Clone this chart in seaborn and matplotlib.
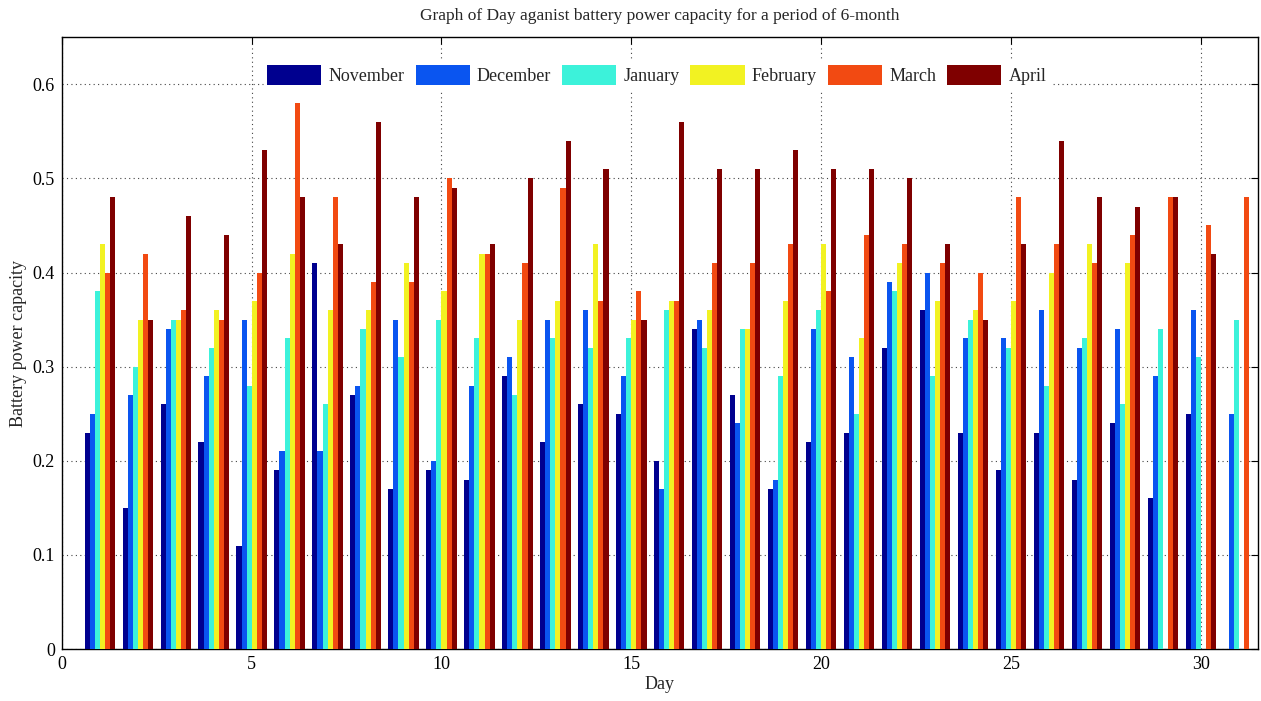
import numpy as np
import pandas as pd
import matplotlib
matplotlib.use("Agg")
import matplotlib.pyplot as plt
import seaborn as sns

nan = np.nan
days = list(range(1, 32))
months = ["November", "December", "January", "February", "March", "April"]

november = [0.23, 0.15, 0.26, 0.22, 0.11, 0.19, 0.41, 0.27, 0.17, 0.19,
            0.18, 0.29, 0.22, 0.26, 0.25, 0.20, 0.34, 0.27, 0.17, 0.22,
            0.23, 0.32, 0.36, 0.23, 0.19, 0.23, 0.18, 0.24, 0.16, 0.25, nan]
december = [0.25, 0.27, 0.34, 0.29, 0.35, 0.21, 0.21, 0.28, 0.35, 0.20,
            0.28, 0.31, 0.35, 0.36, 0.29, 0.17, 0.35, 0.24, 0.18, 0.34,
            0.31, 0.39, 0.40, 0.33, 0.33, 0.36, 0.32, 0.34, 0.29, 0.36, 0.25]
january = [0.38, 0.30, 0.35, 0.32, 0.28, 0.33, 0.26, 0.34, 0.31, 0.35,
           0.33, 0.27, 0.33, 0.32, 0.33, 0.36, 0.32, 0.34, 0.29, 0.36,
           0.25, 0.38, 0.29, 0.35, 0.32, 0.28, 0.33, 0.26, 0.34, 0.31, 0.35]
february = [0.43, 0.35, 0.35, 0.36, 0.37, 0.42, 0.36, 0.36, 0.41, 0.38,
            0.42, 0.35, 0.37, 0.43, 0.35, 0.37, 0.36, 0.34, 0.37, 0.43,
            0.33, 0.41, 0.37, 0.36, 0.37, 0.40, 0.43, 0.41, nan, nan, nan]
march = [0.40, 0.42, 0.36, 0.35, 0.40, 0.58, 0.48, 0.39, 0.39, 0.50,
         0.42, 0.41, 0.49, 0.37, 0.38, 0.37, 0.41, 0.41, 0.43, 0.38,
         0.44, 0.43, 0.41, 0.40, 0.48, 0.43, 0.41, 0.44, 0.48, 0.45, 0.48]
april = [0.48, 0.35, 0.46, 0.44, 0.53, 0.48, 0.43, 0.56, 0.48, 0.49,
         0.43, 0.50, 0.54, 0.51, 0.35, 0.56, 0.51, 0.51, 0.53, 0.51,
         0.51, 0.50, 0.43, 0.35, 0.43, 0.54, 0.48, 0.47, 0.48, 0.42, nan]

series = [november, december, january, february, march, april]
colors = ["#00008F", "#0A55F0", "#3CF2DA", "#F2F222", "#F24A12", "#7F0000"]

rows = []
for m, vals in zip(months, series):
    for d, v in zip(days, vals):
        rows.append({"Day": d, "Month": m, "Value": v})
df = pd.DataFrame(rows).dropna()

sns.set_style("white")
plt.rcParams["font.family"] = ["Liberation Serif", "DejaVu Serif"]

fig = plt.figure(figsize=(12.61, 7.01), dpi=100)
ax = fig.add_axes([0.049, 0.074, 0.9485, 0.873])

sns.barplot(data=df, x="Day", y="Value", hue="Month", hue_order=months,
            palette=colors, native_scale=True, width=0.8, errorbar=None,
            linewidth=0, edgecolor="none", saturation=1, ax=ax, zorder=3)

ax.set_xlim(0, 31.5)
ax.set_ylim(0, 0.65)
ax.set_xticks([0, 5, 10, 15, 20, 25, 30])
ax.set_xticklabels(["0", "5", "10", "15", "20", "25", "30"])
ax.set_yticks([0, 0.1, 0.2, 0.3, 0.4, 0.5, 0.6])
ax.set_yticklabels(["0", "0.1", "0.2", "0.3", "0.4", "0.5", "0.6"])
ax.grid(True, linestyle=(0, (1, 3)), color="#444444", linewidth=0.8, zorder=0)
ax.set_axisbelow(True)
ax.tick_params(direction="in", length=5, width=0.8, top=True, right=True,
               labelsize=13, colors="black", pad=5)
for s in ax.spines.values():
    s.set_visible(True)
    s.set_color("black")
    s.set_linewidth(1.0)

ax.set_xlabel("Day", fontsize=13, labelpad=2)
ax.set_ylabel("Battery power capacity", fontsize=13, labelpad=4)
ax.set_title("Graph of Day aganist battery power capacity for a period of 6-month",
             fontsize=12.5, pad=12)

handles, labels = ax.get_legend_handles_labels()
if ax.get_legend() is not None:
    ax.get_legend().remove()
leg = ax.legend(handles, labels, loc="upper center", bbox_to_anchor=(0.4975, 0.975),
                ncol=6, frameon=True, fontsize=13, handlelength=3.0, handleheight=1.3,
                handletextpad=0.4, columnspacing=0.6, borderpad=0.2)
leg.get_frame().set_edgecolor("white")
leg.get_frame().set_facecolor("white")
leg.get_frame().set_alpha(1)
leg.set_zorder(5)

fig.savefig("out.png", dpi=100)
